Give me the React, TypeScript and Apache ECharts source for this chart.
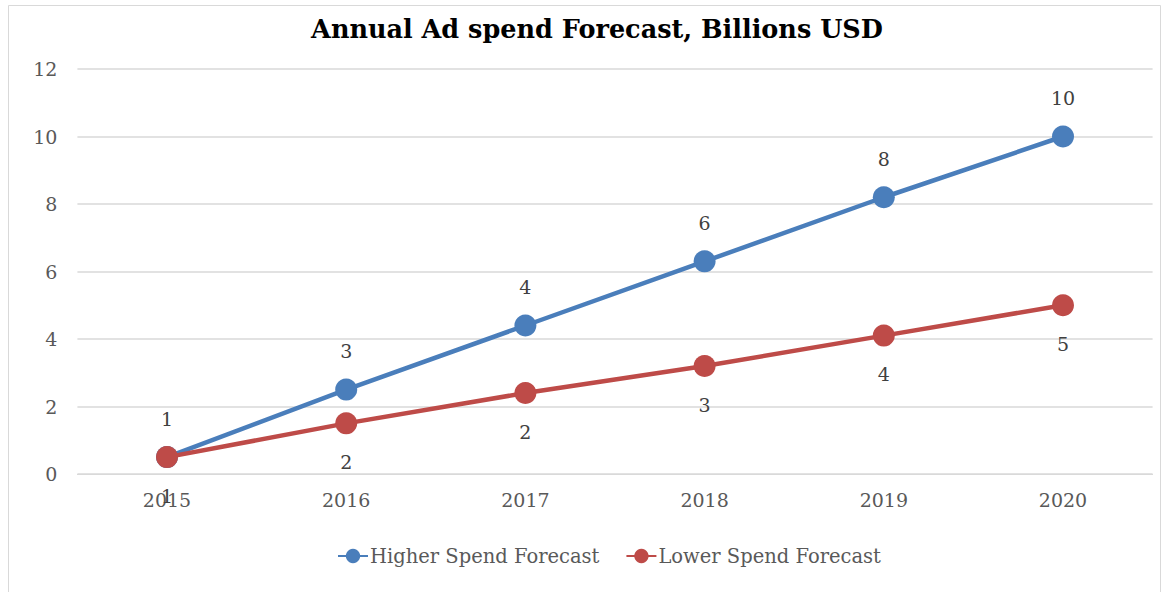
import React, { useEffect, useRef } from "react";
import * as echarts from "echarts";

const years = ["2015", "2016", "2017", "2018", "2019", "2020"];
const higherSpend = [0.5, 2.5, 4.4, 6.3, 8.2, 10];
const lowerSpend = [0.5, 1.5, 2.4, 3.2, 4.1, 5];
const seriesNames = ["Higher Spend Forecast", "Lower Spend Forecast"];
const titleText = "Annual Ad spend Forecast, Billions USD";

const FONT = "DejaVu Serif";

export default function App() {
  const ref = useRef<HTMLDivElement>(null);
  useEffect(() => {
    if (!ref.current) return;
    const chart = echarts.init(ref.current, null, { renderer: "svg" });
    const labelFmt = (p: any) => String(Math.round(p.value));
    chart.setOption({
      animation: false,
      backgroundColor: "#ffffff",
      title: {
        text: titleText,
        left: 592,
        textAlign: "center",
        top: 11,
        textStyle: { fontFamily: FONT, fontWeight: "bold", fontSize: 25.5, color: "#000000" },
      },
      legend: {
        left: 332,
        top: 541,
        itemWidth: 30,
        itemHeight: 18,
        itemGap: 26,
        textStyle: { fontFamily: FONT, fontSize: 19.5, color: "#595959", padding: [0, 0, 0, -3] },
        data: seriesNames,
      },
      graphic: [
        {
          type: "rect",
          shape: { x: 8.5, y: 5.5, width: 1152, height: 600 },
          style: { fill: "none", stroke: "#d9d9d9", lineWidth: 1 },
          silent: true,
        },
      ],
      grid: { left: 77.4, right: 18.4, top: 69, bottom: 118 },
      xAxis: {
        type: "category",
        data: years,
        boundaryGap: true,
        axisLine: { lineStyle: { color: "#d9d9d9", width: 1 } },
        axisTick: { show: false },
        axisLabel: { fontFamily: FONT, fontSize: 19, color: "#595959", margin: 16 },
      },
      yAxis: {
        type: "value",
        min: 0,
        max: 12,
        interval: 2,
        axisLine: { show: false },
        axisTick: { show: false },
        splitLine: { lineStyle: { color: "#d9d9d9", width: 1.5 } },
        axisLabel: { fontFamily: FONT, fontSize: 19, color: "#595959", margin: 20 },
      },
      series: [
        {
          name: seriesNames[0],
          type: "line",
          data: higherSpend,
          symbol: "circle",
          symbolSize: 22,
          lineStyle: { width: 4.5, color: "#4a7ebb" },
          itemStyle: { color: "#4a7ebb" },
          label: {
            show: true,
            position: "top",
            distance: 18,
            formatter: labelFmt,
            fontFamily: FONT,
            fontSize: 19,
            color: "#404040",
          },
          z: 2,
        },
        {
          name: seriesNames[1],
          type: "line",
          data: lowerSpend,
          symbol: "circle",
          symbolSize: 22,
          lineStyle: { width: 4.5, color: "#be4b48" },
          itemStyle: { color: "#be4b48" },
          label: {
            show: true,
            position: "bottom",
            distance: 18,
            formatter: labelFmt,
            fontFamily: FONT,
            fontSize: 19,
            color: "#404040",
          },
          z: 3,
        },
      ],
    });
    return () => chart.dispose();
  }, []);
  return (
    <div
      ref={ref}
      style={{ position: "fixed", left: 0, top: 0, width: 1171, height: 592 }}
    />
  );
}
